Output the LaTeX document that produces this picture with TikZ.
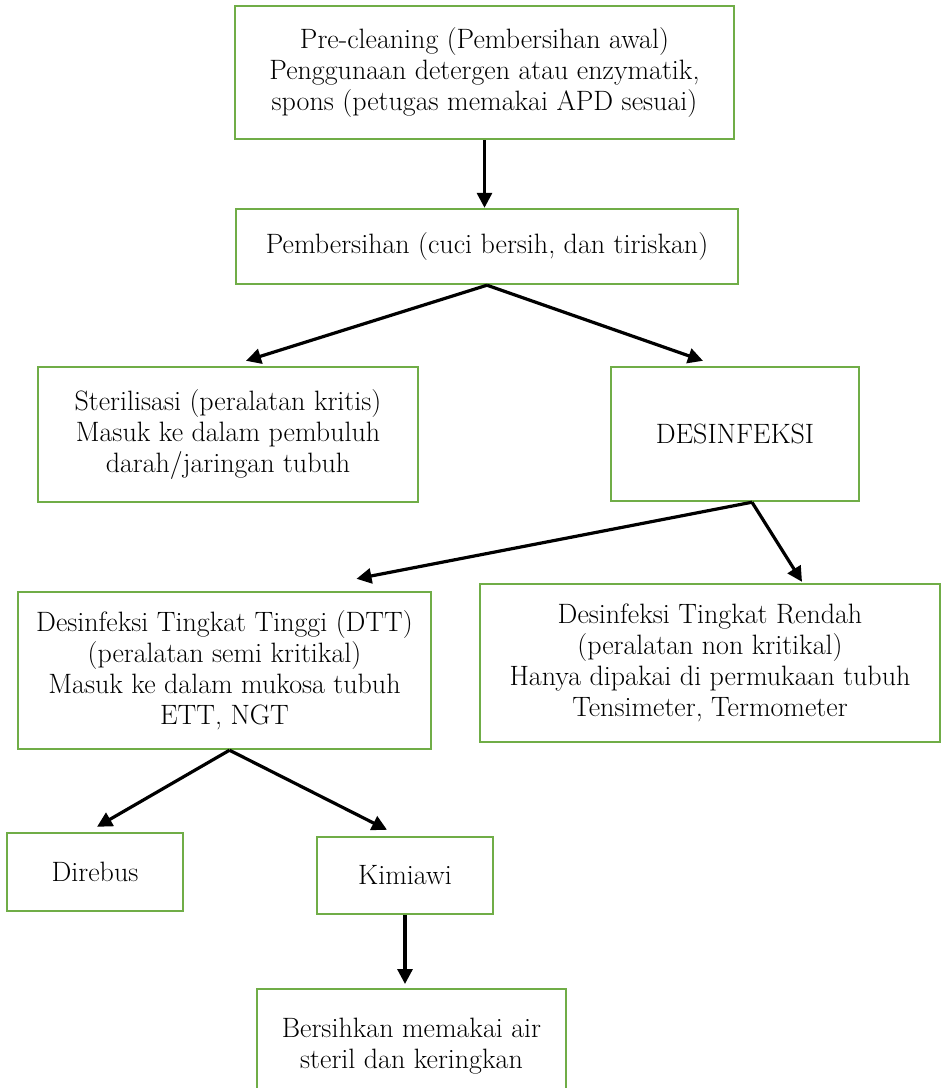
\documentclass[tikz,border=0pt]{standalone}
\usetikzlibrary{arrows.meta}
\definecolor{hijau}{HTML}{70AD47}
\tikzset{
	kotak/.style={draw=hijau, line width=2.4pt, align=center, inner sep=0pt, font=\fontsize{28}{31}\selectfont},
	panah/.style={-{Triangle[length=15pt,width=15pt]}, line width=3.2pt}
}

\begin{document}
\begin{tikzpicture}[x=1pt,y=-1pt]
\useasboundingbox (0,0) rectangle (942,1088);
\clip (0,0) rectangle (942,1088);
\begin{scope}
	\node[kotak, minimum width=499pt, minimum height=133pt] (pre) at (484.5, 72.5) {Pre-cleaning (Pembersihan awal)\\Penggunaan detergen atau enzymatik,\\spons (petugas memakai APD sesuai)};
	\node[kotak, minimum width=502pt, minimum height=75pt] (bersih) at (487, 246.5) {Pembersihan (cuci bersih, dan tiriskan)};
	\node[kotak, minimum width=380pt, minimum height=135pt] (steril) at (228, 434.5) {Sterilisasi (peralatan kritis)\\Masuk ke dalam pembuluh\\darah/jaringan tubuh};
	\node[kotak, minimum width=248pt, minimum height=134pt] (desinf) at (735, 434) {DESINFEKSI};
	\node[kotak, minimum width=413pt, minimum height=157pt] (dtt) at (224.5, 670.5) {Desinfeksi Tingkat Tinggi (DTT)\\(peralatan semi kritikal)\\Masuk ke dalam mukosa tubuh\\ETT, NGT};
	\node[kotak, minimum width=460pt, minimum height=158pt] (rendah) at (710, 663) {Desinfeksi Tingkat Rendah\\(peralatan non kritikal)\\Hanya dipakai di permukaan tubuh\\Tensimeter, Termometer};
	\node[kotak, minimum width=176pt, minimum height=78pt] (rebus) at (95, 872) {Direbus};
	\node[kotak, minimum width=176pt, minimum height=77pt] (kimia) at (405, 875.5) {Kimiawi};
	\node[kotak, minimum width=309pt, anchor=north, inner ysep=28.5pt, text depth=60pt] (bilas) at (411.5, 988) {Bersihkan memakai air\\steril dan keringkan};
	\draw[panah] (pre.south) -- (pre.south |- bersih.north);
	\draw[panah] (bersih.south) -- ([xshift=18pt,yshift=5pt]steril.north);
	\draw[panah] (bersih.south) -- ([xshift=-32pt,yshift=5pt]desinf.north);
	\draw[panah] ([xshift=17pt]desinf.south) -- ([xshift=132pt,yshift=12pt]dtt.north);
	\draw[panah] ([xshift=17pt]desinf.south) -- ([xshift=92pt,yshift=1pt]rendah.north);
	\draw[panah] ([xshift=5pt]dtt.south) -- ([xshift=2pt,yshift=5pt]rebus.north);
	\draw[panah] ([xshift=5pt]dtt.south) -- ([xshift=-18pt,yshift=6pt]kimia.north);
	\draw[panah] (kimia.south) -- ([yshift=4pt]kimia.south |- bilas.north);
\end{scope}
\end{tikzpicture}
\end{document}
